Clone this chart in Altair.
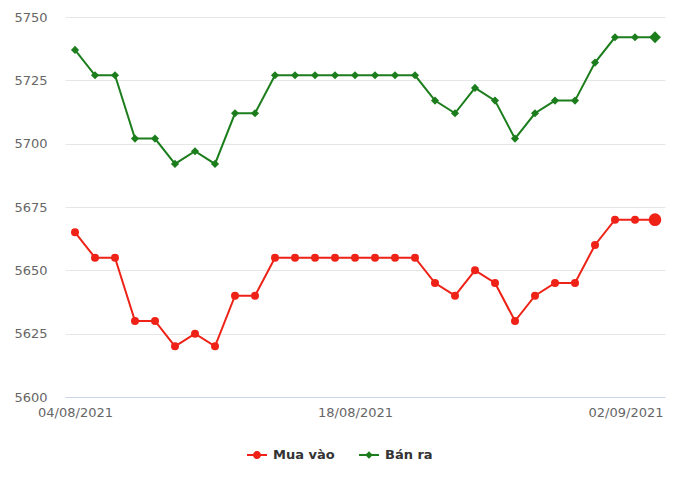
import altair as alt
import pandas as pd

dates = [
    "04/08/2021", "05/08/2021", "06/08/2021", "07/08/2021", "08/08/2021",
    "09/08/2021", "10/08/2021", "11/08/2021", "12/08/2021", "13/08/2021",
    "14/08/2021", "15/08/2021", "16/08/2021", "17/08/2021", "18/08/2021",
    "19/08/2021", "20/08/2021", "21/08/2021", "23/08/2021", "24/08/2021",
    "25/08/2021", "26/08/2021", "27/08/2021", "28/08/2021", "29/08/2021",
    "30/08/2021", "31/08/2021", "01/09/2021", "02/09/2021", "03/09/2021",
]
mua_vao = [5665, 5655, 5655, 5630, 5630, 5620, 5625, 5620, 5640, 5640,
           5655, 5655, 5655, 5655, 5655, 5655, 5655, 5655, 5645, 5640,
           5650, 5645, 5630, 5640, 5645, 5645, 5660, 5670, 5670, 5670]
ban_ra = [5737, 5727, 5727, 5702, 5702, 5692, 5697, 5692, 5712, 5712,
          5727, 5727, 5727, 5727, 5727, 5727, 5727, 5727, 5717, 5712,
          5722, 5717, 5702, 5712, 5717, 5717, 5732, 5742, 5742, 5742]
series_names = ["Mua vào", "Bán ra"]
colors = ["#ee2216", "#1c7d1c"]
y_ticks = [5600, 5625, 5650, 5675, 5700, 5725, 5750]
x_label_dates = [dates[0], dates[14], dates[28]]

rows = []
for name, vals in zip(series_names, [mua_vao, ban_ra]):
    for i, (d, v) in enumerate(zip(dates, vals)):
        rows.append({"date": d, "series": name, "value": v, "last": i == len(dates) - 1})
df = pd.DataFrame(rows)

last_label_test = f"datum.value == '{dates[28]}'"

x_enc = alt.X(
    "date:N", sort=dates,
    scale=alt.Scale(type="point", padding=0.5),
    axis=alt.Axis(
        values=x_label_dates, title=None, labelAngle=0, ticks=False, grid=False,
        domainColor="#ccd6eb", domainWidth=1, labelPadding=9,
        labelAlign={"condition": {"test": last_label_test, "value": "right"}, "value": "center"},
        labelOffset={"condition": {"test": last_label_test, "value": 28}, "value": 0},
    ),
)
y_enc = alt.Y(
    "value:Q",
    scale=alt.Scale(domain=[5600, 5750], nice=False, zero=False),
    axis=alt.Axis(values=y_ticks, format="d", title=None, domain=False, ticks=False,
                  labelPadding=18, gridColor="#e6e6e6", gridWidth=1),
)

layers = []
shapes = ["circle", "diamond"]
sizes = [64, 66]
last_sizes = [160, 140]
for name, col, shp, sz, lsz in zip(series_names, colors, shapes, sizes, last_sizes):
    base = alt.Chart(df).transform_filter(alt.datum.series == name)
    layers.append(base.mark_line(color=col, strokeWidth=2).encode(x=x_enc, y=y_enc))
    layers.append(base.mark_point(color=col, filled=True, opacity=1, shape=shp, size=sz)
                  .encode(x=x_enc, y=y_enc))
    layers.append(base.transform_filter(alt.datum.last)
                  .mark_point(color=col, filled=True, opacity=1, shape=shp, size=lsz)
                  .encode(x=x_enc, y=y_enc))

circ_path = "M-1,-0.1L1,-0.1L1,0.1L-1,0.1Z M-0.4,0A0.4,0.4,0,1,1,0.4,0A0.4,0.4,0,1,1,-0.4,0Z"
diam_path = "M-1,-0.1L1,-0.1L1,0.1L-1,0.1Z M0,-0.38L0.38,0L0,0.38L-0.38,0Z"

legend_layer = (
    alt.Chart(df).transform_filter("false")
    .mark_point(filled=True, opacity=1)
    .encode(
        x=x_enc, y=y_enc,
        color=alt.Color("series:N", scale=alt.Scale(domain=series_names, range=colors),
                        legend=alt.Legend(title=None)),
        shape=alt.Shape("series:N", scale=alt.Scale(domain=series_names, range=[circ_path, diam_path]),
                        legend=alt.Legend(title=None)),
    )
)
layers.append(legend_layer)

chart = (
    alt.layer(*layers)
    .properties(width=600, height=380,
                autosize=alt.AutoSizeParams(type="none"),
                padding={"left": 65, "top": 17, "right": 15, "bottom": 90})
    .configure_view(stroke=None)
    .configure_axis(labelFont="DejaVu Sans", labelFontSize=13, labelColor="#666666")
    .configure_legend(
        orient="none", legendX=182, legendY=428, direction="horizontal",
        labelFont="DejaVu Sans", labelFontSize=13, labelFontWeight="bold",
        labelColor="#333333", symbolSize=400, labelOffset=6, columnPadding=24,
        symbolStrokeWidth=0, symbolOpacity=1,
    )
)

chart.save("out.html", embed_options={"renderer": "svg", "actions": False})
